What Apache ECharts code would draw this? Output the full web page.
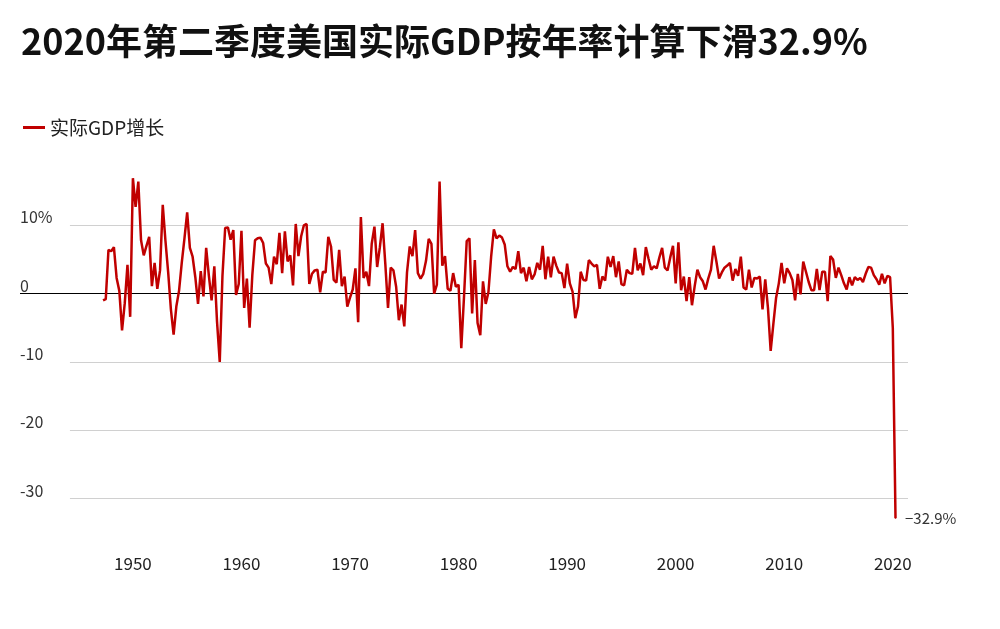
<!DOCTYPE html>
<html><head><meta charset="utf-8">
<script src="https://cdn.jsdelivr.net/npm/echarts@6/dist/echarts.min.js"></script>
<style>html,body{margin:0;padding:0;background:#fff}#c{width:1000px;height:629px}</style>
</head><body><div id="c"></div>
<script>
const startYear = 1947, startQuarter = 2;
const growth = [
-1.0,-0.8,6.4,
6.2,6.8,2.3,0.4,
-5.4,-1.4,4.2,-3.4,
16.9,12.7,16.4,7.8,
5.6,7.0,8.3,1.1,
4.5,0.7,3.4,13.0,
7.7,3.1,-2.3,-6.0,
-1.9,0.4,4.5,8.1,
11.9,6.7,5.4,2.4,
-1.5,3.3,-0.4,6.7,
2.6,-1.0,4.0,-4.1,
-10.0,2.6,9.6,9.7,
7.9,9.3,-0.2,1.4,
9.2,-2.1,2.2,-5.0,
2.7,7.8,8.1,8.2,
7.4,4.4,3.8,1.4,
5.4,4.3,8.9,3.0,
9.1,4.7,5.6,1.2,
10.2,5.5,8.4,10.0,
10.2,1.4,2.9,3.4,
3.5,0.2,3.2,3.1,
8.3,6.9,2.0,1.6,
6.4,1.1,2.5,-1.9,
-0.6,0.6,3.7,-4.2,
11.2,2.3,3.2,1.1,
7.3,9.8,3.9,6.8,
10.3,4.4,-2.1,3.8,
3.4,1.0,-3.9,-1.6,
-4.8,3.1,6.9,5.5,
9.3,3.0,2.2,2.9,
4.8,8.0,7.3,0.0,
1.3,16.4,4.1,5.5,
0.7,0.4,3.0,1.0,
1.3,-8.0,-0.5,7.7,
8.1,-2.9,4.9,-4.3,
-6.1,1.8,-1.5,0.2,
5.4,9.4,8.1,8.5,
8.2,7.2,4.0,3.2,
3.9,3.6,6.2,3.0,
3.8,1.8,3.9,2.1,
2.8,4.5,3.5,7.0,
2.1,5.4,2.4,5.4,
4.1,3.1,3.0,0.8,
4.4,1.5,0.3,-3.6,
-1.9,3.2,2.0,1.9,
4.9,4.4,4.0,4.2,
0.7,2.5,1.9,5.4,
3.9,5.5,2.4,4.7,
1.4,1.2,3.5,3.0,
2.9,6.7,3.4,4.4,
2.7,6.8,5.1,3.5,
4.0,3.7,5.3,6.7,
3.8,3.4,5.3,7.0,
1.5,7.5,0.5,2.5,
-1.1,2.4,-1.7,1.1,
3.5,2.4,1.8,0.6,
2.2,3.5,7.0,4.7,
2.2,3.1,3.8,4.1,
4.5,1.9,3.6,2.6,
5.4,0.9,0.6,3.5,
0.9,2.3,2.2,2.5,
-2.3,2.1,-2.1,-8.4,
-4.4,-0.6,1.5,4.5,
1.5,3.7,3.0,2.0,
-1.0,2.9,-0.1,4.7,
3.2,1.7,0.5,0.5,
3.6,0.5,3.2,3.2,
-1.1,5.5,5.0,2.3,
3.8,2.7,1.5,0.6,
2.4,1.2,2.4,2.0,
2.3,1.7,2.9,3.9,
3.8,2.7,2.1,1.3,
2.9,1.5,2.6,2.4,
-5.0,-32.9
];
const yTicks = [-30,-20,-10,0,10];
const gridTicks = [-30,-20,-10,10];
const xTicks = [1950,1960,1970,1980,1990,2000,2010,2020];
const xMin = 1939.6, xMax = 2021.4, gridStart = 1944.2;
const data = growth.map((v,i)=>{const q=startQuarter-1+i;return [startYear+Math.floor(q/4)+(q%4)/4, v];});
const chart = echarts.init(document.getElementById('c'));
const font = '"Noto Sans CJK SC", "Noto Sans", sans-serif';
chart.setOption({
  animation:false,
  textStyle:{fontFamily:font},
  title:{text:'2020年第二季度美国实际GDP按年率计算下滑32.9%',left:16,top:18,
    textStyle:{fontSize:36,fontWeight:'bold',color:'#111',fontFamily:font}},
  legend:{left:18,top:113,icon:'rect',itemWidth:22,itemHeight:3,
    textStyle:{fontSize:19,color:'#222'},data:['实际GDP增长']},
  grid:{left:20,right:92,top:157,bottom:110},
  xAxis:{type:'value',min:xMin,max:xMax,
    axisLine:{show:false},axisTick:{show:false},splitLine:{show:false},
    axisLabel:{fontSize:17,color:'#222',margin:36,
      customValues:xTicks,formatter:v=>String(v)}},
  yAxis:{type:'value',min:-33,max:20,
    axisLine:{show:false},axisTick:{show:false},
    splitLine:{show:false},
    axisLabel:{inside:true,fontSize:16,color:'#333',verticalAlign:'bottom',margin:0,
      customValues:yTicks,formatter:v=>v===10?'10%':String(v)}},
  series:[{name:'实际GDP增长',type:'line',data:data,symbol:'none',z:3,
    lineStyle:{color:'#c00000',width:2.5},itemStyle:{color:'#c00000'},
    markLine:{silent:true,symbol:'none',label:{show:false},z:1,
      data:[
        [{coord:[xMin,0],lineStyle:{color:'#000',width:1.2,type:'solid'}},{coord:[xMax,0]}],
        ...gridTicks.map(t=>[{coord:[gridStart,t],lineStyle:{color:'#d0d0d0',width:1,type:'solid'}},{coord:[xMax,t]}])
      ]},
    markPoint:{symbol:'circle',symbolSize:1,
      label:{show:true,position:'right',formatter:'−32.9%',fontSize:15,color:'#333',offset:[4,0]},
      data:[{coord:data[data.length-1]}]}
  }]
});
</script></body></html>
